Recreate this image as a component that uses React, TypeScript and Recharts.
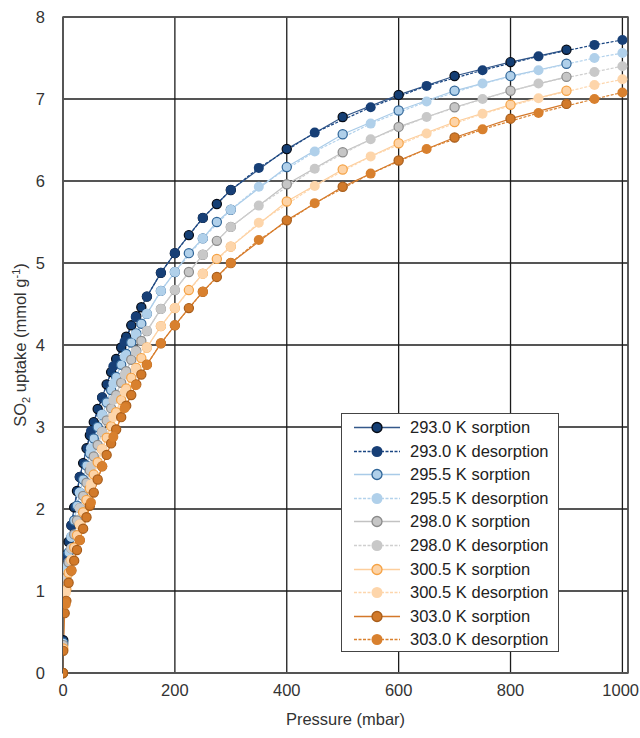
import { LineChart, Line, XAxis, YAxis, CartesianGrid, ReferenceArea } from 'recharts';

const P_SORP = [0, 0.5, 3, 6, 10, 15, 20, 25, 30, 36, 42, 48, 55, 62, 70, 78, 86, 95, 104, 113, 122, 131, 140, 150, 175, 200, 225, 250, 275, 300, 400, 500, 600, 700, 800, 900];
const P_DESORP = [1000, 950, 850, 750, 650, 550, 450, 350, 300, 250, 200, 175, 150, 130, 110, 90, 70, 50, 30, 15, 5];

const S293 = [0, 0.40, 1.30, 1.44, 1.60, 1.80, 2.02, 2.22, 2.39, 2.56, 2.74, 2.90, 3.06, 3.22, 3.36, 3.52, 3.67, 3.83, 3.97, 4.10, 4.24, 4.35, 4.46, 4.59, 4.88, 5.12, 5.34, 5.55, 5.72, 5.89, 6.39, 6.78, 7.05, 7.28, 7.45, 7.60];
const S295 = [0, 0.37, 1.16, 1.30, 1.47, 1.66, 1.86, 2.04, 2.20, 2.36, 2.53, 2.68, 2.86, 3.00, 3.15, 3.30, 3.45, 3.61, 3.76, 3.89, 4.03, 4.14, 4.26, 4.38, 4.66, 4.89, 5.12, 5.30, 5.50, 5.65, 6.17, 6.57, 6.86, 7.10, 7.28, 7.43];
const S298 = [0, 0.34, 1.02, 1.16, 1.35, 1.52, 1.69, 1.86, 2.01, 2.16, 2.32, 2.47, 2.64, 2.78, 2.94, 3.08, 3.23, 3.39, 3.54, 3.68, 3.82, 3.93, 4.05, 4.17, 4.44, 4.67, 4.89, 5.10, 5.27, 5.44, 5.96, 6.35, 6.66, 6.90, 7.10, 7.27];
const S300 = [0, 0.30, 0.88, 1.02, 1.22, 1.38, 1.53, 1.68, 1.81, 1.96, 2.11, 2.25, 2.42, 2.57, 2.73, 2.87, 3.01, 3.18, 3.33, 3.47, 3.60, 3.72, 3.84, 3.97, 4.23, 4.45, 4.67, 4.87, 5.05, 5.20, 5.75, 6.14, 6.46, 6.72, 6.93, 7.10];
const S303 = [0, 0.27, 0.73, 0.88, 1.10, 1.25, 1.37, 1.50, 1.62, 1.76, 1.90, 2.04, 2.20, 2.36, 2.52, 2.66, 2.80, 2.97, 3.12, 3.26, 3.39, 3.52, 3.64, 3.76, 4.02, 4.24, 4.45, 4.65, 4.83, 5.00, 5.52, 5.93, 6.25, 6.53, 6.76, 6.94];

const D293 = [7.72, 7.66, 7.52, 7.35, 7.16, 6.90, 6.59, 6.16, 5.89, 5.55, 5.12, 4.88, 4.59, 4.34, 4.04, 3.74, 3.36, 2.95, 2.39, 1.80, 1.42];
const D295 = [7.56, 7.50, 7.35, 7.19, 6.97, 6.70, 6.36, 5.93, 5.65, 5.30, 4.89, 4.66, 4.38, 4.13, 3.86, 3.53, 3.15, 2.74, 2.20, 1.66, 1.27];
const D298 = [7.40, 7.33, 7.19, 7.00, 6.78, 6.51, 6.15, 5.70, 5.44, 5.10, 4.67, 4.44, 4.17, 3.92, 3.64, 3.33, 2.94, 2.52, 2.01, 1.52, 1.13];
const D300 = [7.24, 7.17, 7.01, 6.82, 6.58, 6.30, 5.94, 5.49, 5.20, 4.87, 4.45, 4.23, 3.97, 3.71, 3.43, 3.12, 2.73, 2.30, 1.81, 1.38, 0.98];
const D303 = [7.08, 7.00, 6.83, 6.63, 6.39, 6.09, 5.73, 5.28, 5.00, 4.65, 4.24, 4.02, 3.76, 3.51, 3.23, 2.88, 2.52, 2.08, 1.62, 1.25, 0.84];

const X_TICKS = [0, 200, 400, 600, 800, 1000];
const Y_TICKS = [0, 1, 2, 3, 4, 5, 6, 7, 8];

const FONT = '"Liberation Sans", Arial, Helvetica, sans-serif';
const FS = 16.5;

const toPoints = (ps: number[], vs: number[]) => ps.map((p, i) => ({ x: p, y: vs[i] }));

const SERIES = [
    { name: '293.0 K sorption', data: toPoints(P_SORP, S293), line: '#34588a', fill: '#143e74', stroke: '#050a14', dash: undefined },
    { name: '293.0 K desorption', data: toPoints(P_DESORP, D293), line: '#1a4682', fill: '#173f76', stroke: null, dash: '3 1.5' },
    { name: '295.5 K sorption', data: toPoints(P_SORP, S295), line: '#a9cbe8', fill: '#b0d0ea', stroke: '#2f6598', dash: undefined },
    { name: '295.5 K desorption', data: toPoints(P_DESORP, D295), line: '#b3d2ec', fill: '#b0d0ea', stroke: null, dash: '3 1.5' },
    { name: '298.0 K sorption', data: toPoints(P_SORP, S298), line: '#c2c2c2', fill: '#c6c6c6', stroke: '#8a8a8a', dash: undefined },
    { name: '298.0 K desorption', data: toPoints(P_DESORP, D298), line: '#cfcfcf', fill: '#c8c8c8', stroke: null, dash: '3 1.5' },
    { name: '300.5 K sorption', data: toPoints(P_SORP, S300), line: '#fdce9c', fill: '#fdd3a6', stroke: '#f5a244', dash: undefined },
    { name: '300.5 K desorption', data: toPoints(P_DESORP, D300), line: '#fdd6ad', fill: '#fdd5aa', stroke: null, dash: '3 1.5' },
    { name: '303.0 K sorption', data: toPoints(P_SORP, S303), line: '#d4782a', fill: '#d27a2a', stroke: '#a85d1a', dash: undefined },
    { name: '303.0 K desorption', data: toPoints(P_DESORP, D303), line: '#d9812f', fill: '#d8802e', stroke: null, dash: '3 1.5' },
];

function XTick(props: any) {
    const { x, y, payload } = props;
    const last = payload.value === 1000;
    return (
        <text x={last ? 639 : x} y={y + 15} textAnchor={last ? 'end' : 'middle'} fontFamily={FONT} fontSize={FS} fill="#333">
            {payload.value}
        </text>
    );
}

function YLabel() {
    return (
        <text x={26} y={345} transform="rotate(-90 26 345)" textAnchor="middle" fontFamily={FONT} fontSize={FS} fill="#333">
            SO<tspan fontSize={11} dy={4}>2</tspan>
            <tspan dy={-4}> uptake (mmol g</tspan>
            <tspan fontSize={11} dy={-6}>-1</tspan>
            <tspan dy={6}>)</tspan>
        </text>
    );
}

function LegendBox() {
    return (
        <div style={{
            position: 'absolute', left: 341, top: 413, width: 216, height: 237,
            background: '#fff', border: '1px solid #444', fontFamily: FONT,
        }}>
            {SERIES.map((s, i) => (
                <div key={s.name} style={{ position: 'absolute', left: 0, top: 2 + i * 23.6, height: 23, display: 'flex', alignItems: 'center' }}>
                    <svg width={68} height={23}>
                        <line x1={12} x2={58} y1={11.5} y2={11.5} stroke={s.line} strokeWidth={1.3} strokeDasharray={s.dash} />
                        <circle cx={35} cy={11.5} r={s.stroke ? 5 : 5.5} fill={s.fill} stroke={s.stroke || 'none'} strokeWidth={s.stroke ? 1.3 : 0} />
                    </svg>
                    <span style={{ fontSize: FS, color: '#222', whiteSpace: 'nowrap' }}>{s.name}</span>
                </div>
            ))}
        </div>
    );
}

export default function App() {
    return (
        <div style={{ position: 'fixed', left: 0, top: 0, width: 640, height: 738, background: '#fff' }}>
            <LineChart width={640} height={738} margin={{ top: 17, right: 12, bottom: 0, left: 0 }}>
                <CartesianGrid stroke="#1c1c1c" strokeWidth={1.3} />
                <XAxis
                    type="number"
                    dataKey="x"
                    domain={[0, 1010]}
                    ticks={X_TICKS}
                    interval={0}
                    allowDataOverflow
                    height={65}
                    tickLine={false}
                    axisLine={{ stroke: '#555', strokeWidth: 1.5 }}
                    tick={<XTick />}
                    label={{ value: 'Pressure (mbar)', position: 'insideBottom', offset: 13, fill: '#333', fontSize: FS, fontFamily: FONT }}
                />
                <YAxis
                    type="number"
                    dataKey="y"
                    domain={[0, 8]}
                    ticks={Y_TICKS}
                    interval={0}
                    width={63}
                    tickLine={false}
                    tickMargin={12}
                    axisLine={{ stroke: '#555', strokeWidth: 1.5 }}
                    tick={{ fill: '#333', fontSize: FS, fontFamily: FONT }}
                    label={<YLabel />}
                />
                <ReferenceArea x1={0} x2={1010} y1={0} y2={8} fill="none" stroke="#555" strokeWidth={1.5} />
                {SERIES.map((s) => (
                    <Line
                        key={s.name}
                        data={s.data}
                        dataKey="y"
                        name={s.name}
                        type="linear"
                        stroke={s.line}
                        strokeWidth={1.2}
                        strokeDasharray={s.dash}
                        dot={s.stroke
                            ? { r: 4.6, fill: s.fill, stroke: s.stroke, strokeWidth: 1.2, strokeDasharray: '' }
                            : { r: 5, fill: s.fill, stroke: s.fill, strokeWidth: 0, strokeDasharray: '' }}
                        activeDot={false}
                        isAnimationActive={false}
                    />
                ))}
            </LineChart>
            <LegendBox />
        </div>
    );
}
